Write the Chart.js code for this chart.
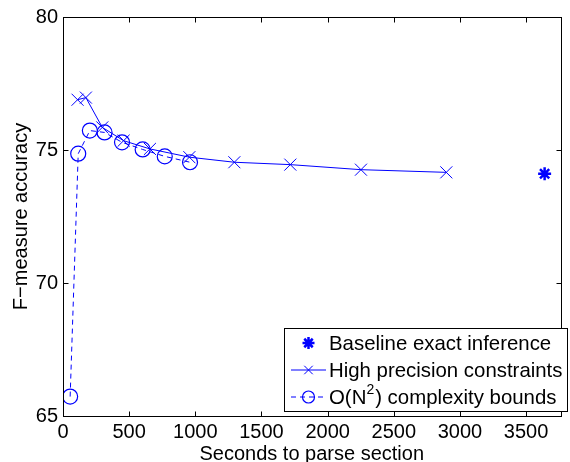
<!DOCTYPE html>
<html>
<head>
<meta charset="utf-8">
<script src="https://cdn.jsdelivr.net/npm/chart.js@4/dist/chart.umd.min.js"></script>
<style>
  html, body { margin: 0; padding: 0; background: #fff; overflow: hidden; }
  #wrap { width: 570px; height: 462px; }
</style>
</head>
<body>
<div id="wrap"><canvas id="chart" width="570" height="462"></canvas></div>
<script>
// ── Data ──────────────────────────────────────────────────────────────
const baselineX = [3640];
const baselineY = [74.11];

const highX = [110, 173, 297, 458, 657, 955, 1295, 1718, 2252, 2897];
const highY = [76.89, 76.97, 75.85, 75.35, 75.04, 74.73, 74.54, 74.45, 74.26, 74.16];

const boundX = [54, 115, 203, 314, 446, 602, 769, 960];
const boundY = [65.73, 74.86, 75.73, 75.66, 75.29, 75.02, 74.76, 74.54];

const labels = ['Baseline exact inference', 'High precision constraints', 'O(N²) complexity bounds'];
const xTicks = [0, 500, 1000, 1500, 2000, 2500, 3000, 3500];
const yTicks = [65, 70, 75, 80];

const BLUE = '#0000ff';
const FONT = '"Liberation Sans", Arial, sans-serif';

const toPts = (xs, ys) => xs.map((x, i) => ({ x, y: ys[i] }));

// frame + inward ticks, matlab style
const framePlugin = {
  id: 'frame',
  afterDraw(chart) {
    const { ctx, chartArea: a, scales } = chart;
    const L = Math.round(a.left) + 0.5, R = Math.round(a.right) + 0.5;
    const T = Math.round(a.top) + 0.5, B = Math.round(a.bottom) + 0.5;
    ctx.save();
    ctx.strokeStyle = '#000';
    ctx.lineWidth = 1;
    ctx.strokeRect(L, T, R - L, B - T);
    ctx.beginPath();
    xTicks.forEach(v => {
      const px = Math.round(scales.x.getPixelForValue(v)) + 0.5;
      ctx.moveTo(px, B); ctx.lineTo(px, B - 5);
      ctx.moveTo(px, T); ctx.lineTo(px, T + 5);
    });
    yTicks.forEach(v => {
      const py = Math.round(scales.y.getPixelForValue(v)) + 0.5;
      ctx.moveTo(L, py); ctx.lineTo(L + 5, py);
      ctx.moveTo(R, py); ctx.lineTo(R - 5, py);
    });
    ctx.stroke();
    ctx.restore();
  }
};

// boxed legend in the lower right corner
const legendPlugin = {
  id: 'boxLegend',
  afterDraw(chart) {
    const { ctx } = chart;
    const box = { left: 284.5, top: 328.5, right: 567.5, bottom: 411.5 };
    ctx.save();
    ctx.fillStyle = '#fff';
    ctx.fillRect(box.left, box.top, box.right - box.left, box.bottom - box.top);
    ctx.strokeStyle = '#000';
    ctx.lineWidth = 1;
    ctx.strokeRect(box.left, box.top, box.right - box.left, box.bottom - box.top);

    const rows = [343, 370, 397];
    chart.data.datasets.forEach((ds, i) => {
      const y = rows[i];
      ctx.strokeStyle = ds.borderColor;
      if (ds.showLine) {
        ctx.lineWidth = ds.borderWidth;
        ctx.setLineDash(ds.borderDash || []);
        ctx.beginPath();
        ctx.moveTo(291, y); ctx.lineTo(326, y);
        ctx.stroke();
        ctx.setLineDash([]);
      }
      ctx.lineWidth = ds.pointBorderWidth;
      ctx.fillStyle = ds.pointBackgroundColor;
      Chart.helpers.drawPoint(ctx, { pointStyle: ds.pointStyle, radius: ds.legendRadius, borderWidth: ds.pointBorderWidth, rotation: 0 }, 308.5, y);

      // label, with a raised superscript for the squared N
      ctx.fillStyle = '#000';
      ctx.textBaseline = 'middle';
      ctx.textAlign = 'left';
      let x = 329;
      const parts = ds.label.split('²');
      parts.forEach((p, k) => {
        ctx.font = '20.4px ' + FONT;
        ctx.fillText(p, x, y + 1);
        x += ctx.measureText(p).width;
        if (k < parts.length - 1) {
          ctx.font = '14px ' + FONT;
          ctx.fillText('2', x, y - 7);
          x += ctx.measureText('2').width + 1;
        }
      });
    });
    ctx.restore();
  }
};

new Chart(document.getElementById('chart'), {
  type: 'scatter',
  data: {
    datasets: [
      {
        label: labels[0],
        data: toPts(baselineX, baselineY),
        showLine: false,
        borderColor: BLUE,
        backgroundColor: BLUE,
        pointStyle: 'star',
        pointRadius: 6.5,
        legendRadius: 6,
        pointBorderWidth: 2.5,
        pointBackgroundColor: BLUE,
      },
      {
        label: labels[1],
        data: toPts(highX, highY),
        showLine: true,
        borderColor: BLUE,
        borderWidth: 1,
        pointStyle: 'crossRot',
        pointRadius: 8.5,
        legendRadius: 6,
        pointBorderWidth: 1,
        pointBackgroundColor: BLUE,
        tension: 0,
      },
      {
        label: labels[2],
        data: toPts(boundX, boundY),
        showLine: true,
        borderColor: BLUE,
        borderWidth: 1,
        borderDash: [5, 4],
        pointStyle: 'circle',
        pointRadius: 7.5,
        legendRadius: 6,
        pointBorderWidth: 1.2,
        pointBackgroundColor: 'rgba(0,0,0,0)',
        tension: 0,
      },
    ],
  },
  options: {
    responsive: false,
    animation: false,
    events: [],
    layout: { padding: { left: 0, top: 16, right: 2, bottom: 0 } },
    plugins: { legend: { display: false }, tooltip: { enabled: false } },
    scales: {
      x: {
        type: 'linear',
        min: 0,
        max: 3760,
        grid: { display: false, drawTicks: false },
        border: { display: false },
        afterBuildTicks(scale) { scale.ticks = xTicks.map(v => ({ value: v })); },
        ticks: {
          autoSkip: false,
          maxRotation: 0,
          padding: 4,
          color: '#000',
          font: { family: FONT, size: 20 },
          callback: v => String(v),
        },
        title: {
          display: true,
          text: 'Seconds to parse section',
          color: '#000',
          font: { family: FONT, size: 20 },
          padding: { top: 0, bottom: -4 },
        },
        afterFit(scale) { scale.height = 46; },
      },
      y: {
        type: 'linear',
        min: 65,
        max: 80,
        grid: { display: false, drawTicks: false },
        border: { display: false },
        afterBuildTicks(scale) { scale.ticks = yTicks.map(v => ({ value: v })); },
        ticks: {
          padding: 5,
          color: '#000',
          font: { family: FONT, size: 20 },
          callback: v => String(v),
        },
        title: {
          display: true,
          text: 'F−measure accuracy',
          color: '#000',
          font: { family: FONT, size: 20 },
          padding: { top: 9, bottom: 0 },
        },
        afterFit(scale) { scale.width = 63; },
      },
    },
  },
  plugins: [framePlugin, legendPlugin],
});
</script>
</body>
</html>
